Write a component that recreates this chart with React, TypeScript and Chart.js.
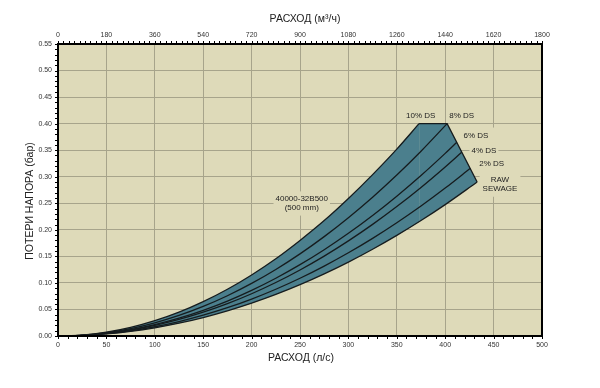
import React, { useEffect, useRef } from "react";
import { Chart, registerables } from "chart.js";

Chart.register(...registerables);

// ---- data (flow in l/s, head loss in bar) ----
const x10 = [0, 25, 50, 75, 100, 125, 150, 175, 200, 225, 250, 275, 300, 325, 350, 373];
const y10 = [0, 0.0018, 0.0072, 0.0162, 0.0288, 0.0449, 0.0647, 0.088, 0.115, 0.1455, 0.18, 0.2174, 0.259, 0.304, 0.352, 0.4];
const x8 = [0, 25, 50, 75, 100, 125, 150, 175, 200, 225, 250, 275, 300, 325, 350, 375, 402];
const y8 = [0, 0.0015, 0.0062, 0.0139, 0.0248, 0.0387, 0.0557, 0.0758, 0.099, 0.1253, 0.1547, 0.1872, 0.2228, 0.2614, 0.3032, 0.348, 0.4];
const x6 = [0, 25, 50, 75, 100, 125, 150, 175, 200, 225, 250, 275, 300, 325, 350, 375, 400, 412];
const y6 = [0, 0.0013, 0.0054, 0.0121, 0.0215, 0.0336, 0.0484, 0.0658, 0.086, 0.1088, 0.1344, 0.1626, 0.1935, 0.2271, 0.2634, 0.3023, 0.344, 0.365];
const x4 = [0, 25, 50, 75, 100, 125, 150, 175, 200, 225, 250, 275, 300, 325, 350, 375, 400, 417];
const y4 = [0, 0.0012, 0.005, 0.0112, 0.0199, 0.0311, 0.0448, 0.0609, 0.0796, 0.1007, 0.1244, 0.1505, 0.1791, 0.2102, 0.2438, 0.2798, 0.3184, 0.346];
const x2 = [0, 25, 50, 75, 100, 125, 150, 175, 200, 225, 250, 275, 300, 325, 350, 375, 400, 426];
const y2 = [0, 0.0011, 0.0044, 0.0098, 0.0174, 0.0272, 0.0392, 0.0533, 0.0696, 0.0881, 0.1088, 0.1317, 0.1567, 0.1839, 0.2133, 0.2448, 0.2786, 0.316];
const xRaw = [0, 25, 50, 75, 100, 125, 150, 175, 200, 225, 250, 275, 300, 325, 350, 375, 400, 433];
const yRaw = [0, 0.001, 0.0039, 0.0087, 0.0155, 0.0242, 0.0348, 0.0474, 0.0619, 0.0783, 0.0967, 0.117, 0.1392, 0.1634, 0.1895, 0.2175, 0.2475, 0.29];
// right-hand limit of the band (max head loss / max flow)
const xEdge = [350, 373, 402, 433];
const yEdge = [0.352, 0.4, 0.4, 0.29];

const seriesLabels = ["RAW SEWAGE", "2% DS", "4% DS", "6% DS", "8% DS", "10% DS"];

// axes
const flowMin = 0, flowMax = 500, flowStep = 50;
const flowM3Max = 1800, flowM3Step = 180;
const lossMin = 0, lossMax = 0.55, lossStep = 0.05;

const titleBottom = "РАСХОД (л/с)";
const titleTop = "РАСХОД (м³/ч)";
const titleLeft = "ПОТЕРИ НАПОРА (бар)";
const modelLines = ["40000-32B500", "(500 mm)"];

const FONT = "'Liberation Sans', Arial, Helvetica, sans-serif";
const PLOT_BG = "#dedab9";
const BAND = "#4b7f8d";
const LINE = "#161c1e";
const GRID = "#a7a48b";
const TEXT = "#222222";

const pts = (xs: number[], ys: number[]) => xs.map((x, i) => ({ x, y: ys[i] }));

export default function App() {
  const ref = useRef<HTMLCanvasElement>(null);

  useEffect(() => {
    const canvas = ref.current;
    if (!canvas) return;

    // annotation anchors in data space [flow l/s, loss bar]
    const annots: { lines: string[]; at: [number, number]; padX: number; padY: number }[] = [
      { lines: [seriesLabels[5]], at: [374.7, 0.414], padX: 2, padY: 2 },
      { lines: [seriesLabels[4]], at: [417, 0.414], padX: 2, padY: 2 },
      { lines: [seriesLabels[3]], at: [431.8, 0.377], padX: 6, padY: 5 },
      { lines: [seriesLabels[2]], at: [440, 0.348], padX: 2, padY: 5 },
      { lines: [seriesLabels[1]], at: [448, 0.324], padX: 3, padY: 5 },
      { lines: ["RAW", "SEWAGE"], at: [456.6, 0.286], padX: 3, padY: 4 },
      { lines: modelLines, at: [251.8, 0.2505], padX: 2, padY: 4 },
    ];
    const annFont = `8px ${FONT}`;
    const lineH = 8.6;

    const decor = {
      id: "decor",
      beforeDraw(chart: any) {
        const { ctx, chartArea: a } = chart;
        ctx.save();
        ctx.fillStyle = PLOT_BG;
        ctx.fillRect(a.left, a.top, a.right - a.left, a.bottom - a.top);
        ctx.restore();
      },
      beforeDatasetsDraw(chart: any) {
        const { ctx } = chart;
        const xs = chart.scales.x, ys = chart.scales.y;
        ctx.save();
        ctx.font = annFont;
        ctx.fillStyle = PLOT_BG;
        for (const an of annots) {
          const cx = xs.getPixelForValue(an.at[0]);
          const cy = ys.getPixelForValue(an.at[1]);
          const w = Math.max(...an.lines.map((l) => ctx.measureText(l).width));
          const h = an.lines.length * lineH;
          ctx.fillRect(cx - w / 2 - an.padX, cy - h / 2 - an.padY + 1, w + 2 * an.padX, h + 2 * an.padY - 1);
        }
        ctx.restore();
      },
      afterDraw(chart: any) {
        const { ctx, chartArea: a } = chart;
        const xs = chart.scales.x, xt = chart.scales.x2, ys = chart.scales.y;
        ctx.save();
        // minor ticks
        ctx.strokeStyle = "#000";
        ctx.lineWidth = 1;
        ctx.beginPath();
        for (let v = flowMin; v <= flowMax; v += 10) {
          const p = Math.round(xs.getPixelForValue(v)) + 0.5;
          ctx.moveTo(p, a.bottom);
          ctx.lineTo(p, a.bottom + 3);
        }
        for (let v = 0; v <= flowM3Max; v += 20) {
          const p = Math.round(xt.getPixelForValue(v)) + 0.5;
          ctx.moveTo(p, a.top);
          ctx.lineTo(p, a.top - 3);
        }
        for (let i = 0; i <= 55; i++) {
          const p = Math.round(ys.getPixelForValue(i / 100)) + 0.5;
          ctx.moveTo(a.left, p);
          ctx.lineTo(a.left - 3, p);
        }
        ctx.stroke();
        // border
        ctx.lineWidth = 2;
        ctx.strokeStyle = "#000";
        ctx.strokeRect(a.left, a.top, a.right - a.left, a.bottom - a.top);

        // annotation texts
        ctx.font = annFont;
        ctx.fillStyle = TEXT;
        ctx.textAlign = "center";
        ctx.textBaseline = "middle";
        for (const an of annots) {
          const cx = xs.getPixelForValue(an.at[0]);
          const cy = ys.getPixelForValue(an.at[1]);
          const n = an.lines.length;
          an.lines.forEach((l, i) => {
            ctx.fillText(l, cx, cy + (i - (n - 1) / 2) * lineH);
          });
        }

        // axis titles
        ctx.font = `10.5px ${FONT}`;
        ctx.fillStyle = TEXT;
        ctx.fillText(titleTop, (a.left + a.right) / 2 + 5, 19);
        ctx.fillText(titleBottom, (a.left + a.right) / 2 + 1, 358);
        ctx.translate(30, 201);
        ctx.rotate(-Math.PI / 2);
        ctx.fillText(titleLeft, 0, 0);
        ctx.restore();
      },
    };

    const lineDs = (label: string, xs: number[], ys: number[], extra: any = {}) => ({
      label,
      data: pts(xs, ys),
      borderColor: LINE,
      borderWidth: 1.3,
      pointRadius: 0,
      cubicInterpolationMode: "monotone",
      fill: false,
      ...extra,
    });

    const tickFont = { family: FONT, size: 7 };
    const plain = (v: any) => String(Math.round(Number(v)));

    const chart = new Chart(canvas, {
      type: "line",
      data: {
        datasets: [
          lineDs(seriesLabels[0], xRaw, yRaw),
          lineDs(seriesLabels[1], x2, y2),
          lineDs(seriesLabels[2], x4, y4),
          lineDs(seriesLabels[3], x6, y6),
          lineDs(seriesLabels[4], x8, y8),
          lineDs(seriesLabels[5], x10, y10, { fill: { target: 0 }, backgroundColor: BAND }),
          {
            label: "limit",
            data: pts(xEdge, yEdge),
            borderColor: LINE,
            borderWidth: 1.3,
            pointRadius: 0,
            tension: 0,
            fill: { target: 0 },
            backgroundColor: BAND,
            segment: {
              borderColor: (c: any) => (c.p0DataIndex === 0 ? "rgba(0,0,0,0)" : LINE),
            },
          },
        ],
      } as any,
      options: {
        responsive: false,
        animation: false,
        events: [],
        layout: { padding: { left: 0, right: 58, top: 0, bottom: 0 } },
        plugins: {
          legend: { display: false },
          tooltip: { enabled: false },
          filler: { drawTime: "beforeDatasetsDraw" },
        } as any,
        scales: {
          x: {
            type: "linear",
            position: "bottom",
            min: flowMin,
            max: flowMax,
            ticks: { stepSize: flowStep, font: tickFont, color: "#333", padding: 5, maxRotation: 0, autoSkip: false, callback: plain },
            grid: { color: GRID, lineWidth: 1, drawTicks: false },
            border: { display: false },
            afterFit: (s: any) => { s.height = 52; },
          },
          x2: {
            type: "linear",
            position: "top",
            min: 0,
            max: flowM3Max,
            ticks: { stepSize: flowM3Step, font: tickFont, color: "#333", padding: 5, maxRotation: 0, autoSkip: false, callback: plain },
            grid: { display: false, drawTicks: false },
            border: { display: false },
            afterFit: (s: any) => { s.height = 44; },
          },
          y: {
            type: "linear",
            min: lossMin,
            max: lossMax,
            ticks: {
              stepSize: lossStep,
              font: tickFont,
              color: "#333",
              padding: 6,
              autoSkip: false,
              callback: (v: any) => Number(v).toFixed(2),
            },
            grid: { color: GRID, lineWidth: 1, drawTicks: false },
            border: { display: false },
            afterFit: (s: any) => { s.width = 58; },
          },
        },
      } as any,
      plugins: [decor],
    });

    return () => chart.destroy();
  }, []);

  return (
    <div style={{ position: "absolute", left: 0, top: 0, width: 600, height: 388, background: "#fff" }}>
      <canvas ref={ref} width={600} height={388} style={{ width: 600, height: 388, display: "block" }} />
    </div>
  );
}
